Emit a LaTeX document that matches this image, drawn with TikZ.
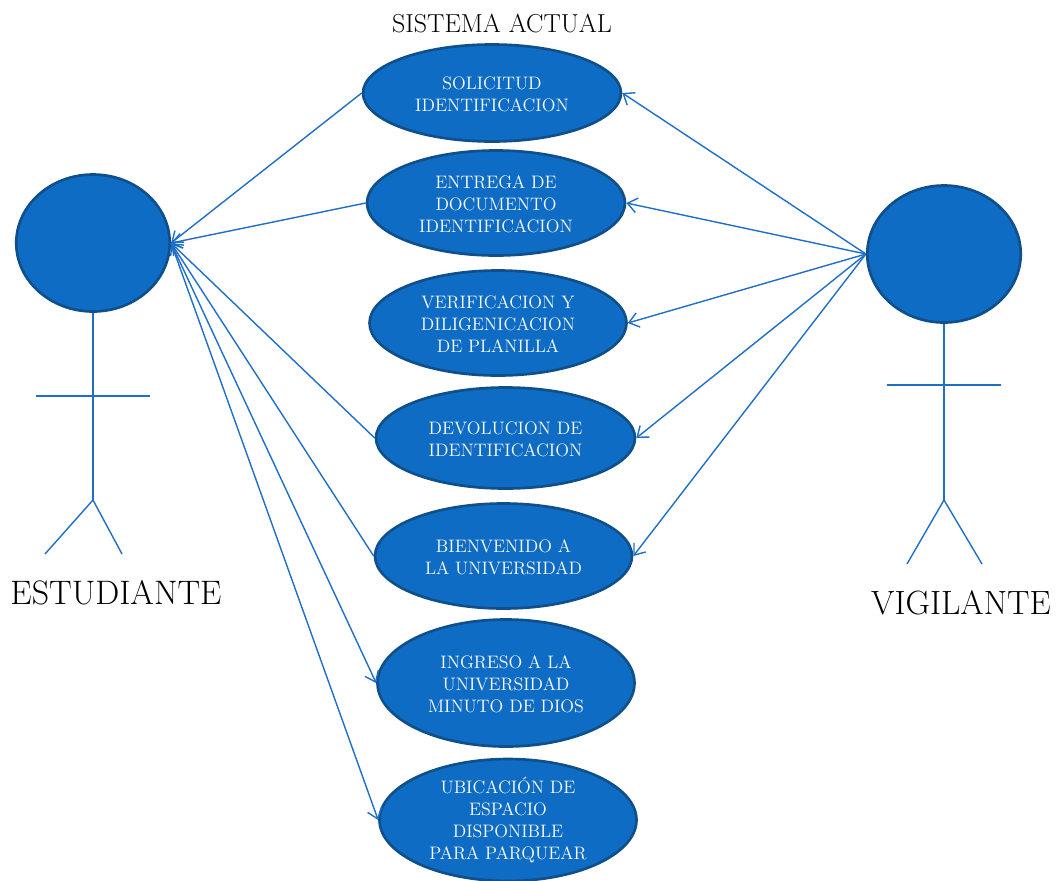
\documentclass[tikz,border=0pt]{standalone}
\usepackage{fontspec}
\setmainfont{Latin Modern Roman}
\usetikzlibrary{shapes.geometric,arrows.meta}
\definecolor{ucfill}{HTML}{0F6CC4}
\definecolor{ucdraw}{HTML}{0F4F8A}
\definecolor{ucline}{HTML}{1F6FC8}
\tikzset{
  x=0.0238cm,y=-0.0238cm,
  uc/.style={ellipse,draw=ucdraw,line width=1.8pt,fill=ucfill,inner sep=0pt,text=white,align=center,font=\fontsize{12.2pt}{15pt}\selectfont},
  act/.style={ellipse,draw=ucdraw,line width=1.8pt,fill=ucfill,inner sep=0pt},
  lnk/.style={draw=ucline,line width=0.95pt,-{Straight Barb[length=6.5pt,width=10pt]}},
  lim/.style={draw=ucline,line width=0.95pt},
  lab/.style={inner sep=0pt,text=black}
}
\begin{document}
\begin{tikzpicture}
\useasboundingbox (0,0) rectangle (1057,880);
\node[lab,font=\fontsize{17.6pt}{20pt}\selectfont] (title) at (502,24) {SISTEMA ACTUAL};
\foreach \n/\cx/\cy/\w/\h/\t in {
 a/492/93/258/97/{SOLICITUD\\IDENTIFICACION},
 b/496/203/258/105/{ENTREGA DE\\DOCUMENTO\\IDENTIFICACION},
 c/498/323/257/105/{VERIFICACION Y\\DILIGENICACION\\DE PLANILLA},
 d/505.5/438/259/101/{DEVOLUCION DE\\IDENTIFICACION},
 e/503.5/556/257/105/{BIENVENIDO A\\LA UNIVERSIDAD},
 f/506/683/257/127/{INGRESO A LA\\UNIVERSIDAD\\MINUTO DE DIOS},
 g/508/820/257/117/{UBICACI\'ON DE\\ESPACIO\\DISPONIBLE\\PARA PARQUEAR}}{
  \node[uc,minimum width=\w*0.0238cm,minimum height=\h*0.0238cm] (\n) at (\cx,\cy) {\rule{0pt}{10.5pt}\t};
}
\node[act,minimum width=153.5*0.0238cm,minimum height=137*0.0238cm] (est) at (93,243) {};
\node[act,minimum width=153.5*0.0238cm,minimum height=137*0.0238cm] (vig) at (944,254) {};
\coordinate (eh) at (93,500);
\coordinate (el) at (45,554);
\coordinate (er) at (122,554);
\coordinate (eal) at (36,396);
\coordinate (ear) at (150,396);
\coordinate (vh) at (944,500);
\coordinate (vl) at (907,564);
\coordinate (vr) at (982,564);
\coordinate (val) at (887,385);
\coordinate (var) at (1001,385);
\draw[lim] (est.south) -- (eh);
\draw[lim] (el) -- (eh) -- (er);
\draw[lim] (eal) -- (ear);
\draw[lim] (vig.south) -- (vh);
\draw[lim] (vl) -- (vh) -- (vr);
\draw[lim] (val) -- (var);
\node[lab,font=\fontsize{23pt}{28pt}\selectfont] (enom) at (116,593) {ESTUDIANTE};
\node[lab,font=\fontsize{22.8pt}{28pt}\selectfont] (vnom) at (961,603) {VIGILANTE};
\foreach \n in {a,b,d,e}{ \draw[lnk] (\n.west) -- (est.east); }
\foreach \n in {f,g}{ \draw[lnk] (est.east) -- (\n.west); }
\foreach \n in {a,b,c,d,e}{ \draw[lnk] (vig.west) -- (\n.east); }
\end{tikzpicture}
\end{document}
